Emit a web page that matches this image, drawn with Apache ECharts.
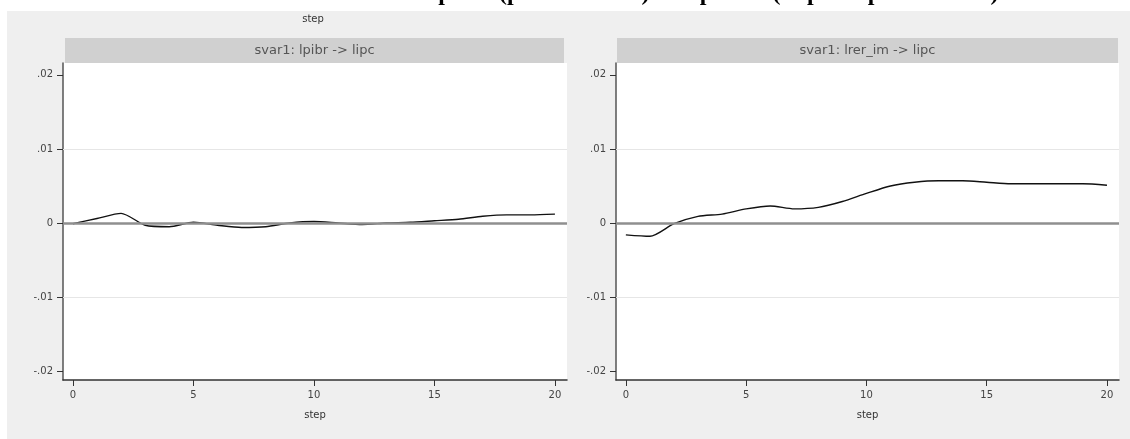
<!DOCTYPE html>
<html>
<head>
<meta charset="utf-8">
<script src="https://cdn.jsdelivr.net/npm/echarts@6/dist/echarts.min.js"></script>
<style>
  html, body { margin: 0; padding: 0; background: #fff; }
  #chart { width: 1130px; height: 439px; }
</style>
</head>
<body>
<div id="chart"></div>
<script>
const steps = [0, 1, 2, 3, 4, 5, 6, 7, 8, 9, 10, 11, 12, 13, 14, 15, 16, 17, 18, 19, 20];
const lpibr_lipc = [-0.0001, 0.0006, 0.0013, -0.0003, -0.0005, 0.0001, -0.0003, -0.0006, -0.0005, 0.0000, 0.0002,
  0.0000, -0.0002, 0.0000, 0.0001, 0.0003, 0.0005, 0.0009, 0.0011, 0.0011, 0.0012];
const lrerim_lipc = [-0.0016, -0.0018, -0.0001, 0.0009, 0.0012, 0.0019, 0.0023, 0.0019, 0.0021, 0.0029, 0.0040,
  0.0050, 0.0055, 0.0057, 0.0057, 0.0055, 0.0053, 0.0053, 0.0053, 0.0053, 0.0051];
const panelTitles = ['svar1: lpibr -> lipc', 'svar1: lrer_im -> lipc'];
const yTicks = [-0.02, -0.01, 0, 0.01, 0.02];
const xTicks = [0, 5, 10, 15, 20];
const headline = 'Función impulso (perturbación) - respuesta (impulso permanente)';

const chart = echarts.init(document.getElementById('chart'), null, { renderer: 'canvas' });

const font = '"DejaVu Sans", sans-serif';
const yFmt = v => v === 0 ? '0' : (v < 0 ? '-' : '') + Math.abs(v).toFixed(2).replace(/^0/, '');

// two panels, same scales
const panels = [
  { left: 63, right: 563, data: lpibr_lipc, strip: [65, 564] },
  { left: 616, right: 11, data: lrerim_lipc, strip: [617, 1118] }
];

const option = {
  backgroundColor: '#fff',
  animation: false,
  graphic: [
    { type: 'rect', z: -10, shape: { x: 7, y: 11, width: 1123, height: 428 }, style: { fill: '#efefef' } },
    { type: 'text', x: 313, y: 19, style: { text: 'step', font: '10px ' + font, fill: '#333', align: 'center', verticalAlign: 'middle' } },
    // headline of the page, cut off at the top of the picture
    { type: 'text', x: 660, y: 6, z: 5, style: { text: headline, font: 'bold 24px "Liberation Serif", serif', fill: '#000',
      align: 'center', verticalAlign: 'bottom' } },
    ...panels.map((p, i) => ({
      type: 'group', children: [
        { type: 'rect', shape: { x: p.strip[0], y: 38, width: p.strip[1] - p.strip[0], height: 25 }, style: { fill: '#d0d0d0' } },
        { type: 'text', x: (p.strip[0] + p.strip[1]) / 2, y: 51, style: { text: panelTitles[i], font: '13px ' + font,
          fill: '#555', align: 'center', verticalAlign: 'middle' } }
      ]
    }))
  ],
  grid: panels.map(p => ({ left: p.left, right: p.right, top: 63, bottom: 59, show: true, backgroundColor: '#fff', borderWidth: 0 })),
  xAxis: panels.map((p, i) => ({
    type: 'value', gridIndex: i, min: -0.41, max: 20.5,
    name: 'step', nameLocation: 'middle', nameGap: 30,
    nameTextStyle: { fontFamily: font, fontSize: 10, color: '#333' },
    axisLine: { show: true, onZero: false, lineStyle: { color: '#333', width: 1.5 } },
    axisTick: { show: true, length: 6, customValues: xTicks, lineStyle: { color: '#333' } },
    axisLabel: { customValues: xTicks, fontFamily: font, fontSize: 10, color: '#444', margin: 10 },
    splitLine: { show: false }
  })),
  yAxis: panels.map((p, i) => ({
    type: 'value', gridIndex: i, min: -0.0212, max: 0.0216,
    axisLine: { show: true, onZero: false, lineStyle: { color: '#555', width: 1.5 } },
    axisTick: { show: true, length: 6, customValues: yTicks, lineStyle: { color: '#333' } },
    axisLabel: { customValues: yTicks, formatter: yFmt, fontFamily: font, fontSize: 10, color: '#444', margin: 10 },
    splitLine: { show: false }
  })),
  series: panels.map((p, i) => ({
    type: 'line', xAxisIndex: i, yAxisIndex: i,
    data: steps.map((s, k) => [s, p.data[k]]),
    showSymbol: false, smooth: 0.25,
    lineStyle: { color: '#111', width: 1.4 },
    markLine: {
      silent: true, symbol: 'none', label: { show: false },
      data: [
        { yAxis: 0.01, lineStyle: { color: '#e6e6e6', width: 1, type: 'solid' } },
        { yAxis: -0.01, lineStyle: { color: '#e6e6e6', width: 1, type: 'solid' } },
        { yAxis: 0, lineStyle: { color: '#8f8f8f', width: 2.5, type: 'solid' } }
      ]
    }
  }))
};

chart.setOption(option);
</script>
</body>
</html>
